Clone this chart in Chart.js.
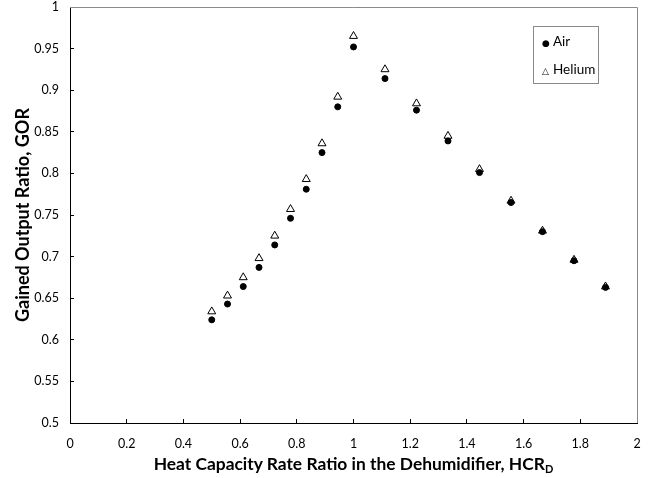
<!DOCTYPE html>
<html lang="en">
<head>
  <meta charset="UTF-8">
  <title>GOR vs HCR_D</title>
  <style>
    body {
      margin: 0;
      padding: 0;
      background: #ffffff;
      font-family: Lato, 'Open Sans', sans-serif;
    }
    .wrap {
      position: relative;
      width: 655px;
      height: 478px;
    }
    /* x axis title, with the subscript */
    .xtitle {
      position: absolute;
      left: 70px;
      width: 567px;
      top: 453px;
      text-align: center;
      font-weight: bold;
      font-size: 17.4px;
      color: #000;
      white-space: nowrap;
    }
    .xtitle sub {
      font-size: 11px;
      vertical-align: -3px;
    }
    .legend {
      position: absolute;
      left: 533px;
      top: 26px;
      width: 64px;
      height: 56px;
      border: 1px solid #8a8a8a;
      font-size: 13.5px;
      color: #000;
    }
    .legend div {
      position: absolute;
      left: 8px;
      white-space: nowrap;
    }
    .legend .sym {
      display: inline-block;
      width: 9px;
      font-family: 'DejaVu Sans', sans-serif;
      font-size: 9px;
      margin-right: 2px;
    }
  </style>
  <script src="https://cdn.jsdelivr.net/npm/chart.js"></script>
</head>
<body>
  <div class="wrap">
    <canvas id="gorChart" width="655" height="478"></canvas>
    <div class="legend">
      <div style="top:6px"><span class="sym">&#9679;</span>Air</div>
      <div style="top:34px"><span class="sym">&#9651;</span>Helium</div>
    </div>
    <div class="xtitle">Heat Capacity Rate Ratio in the Dehumidifier, HCR<sub>D</sub></div>
  </div>

  <script>
    // valeurs
    const hcr = [0.5, 0.5556, 0.6111, 0.6667, 0.7222, 0.7778, 0.8333, 0.8889, 0.9444, 1.0,
                 1.1111, 1.2222, 1.3333, 1.4444, 1.5556, 1.6667, 1.7778, 1.8889];
    const gorAir = [0.624, 0.643, 0.664, 0.687, 0.714, 0.746, 0.781, 0.825, 0.880, 0.952,
                    0.914, 0.876, 0.839, 0.801, 0.765, 0.730, 0.695, 0.663];
    const gorHelium = [0.634, 0.653, 0.675, 0.698, 0.725, 0.757, 0.793, 0.836, 0.892, 0.965,
                       0.925, 0.884, 0.845, 0.805, 0.767, 0.731, 0.696, 0.664];
    const xTickLabels = ['0', '0.2', '0.4', '0.6', '0.8', '1', '1.2', '1.4', '1.6', '1.8', '2'];
    const yTickLabels = ['0.5', '0.55', '0.6', '0.65', '0.7', '0.75', '0.8', '0.85', '0.9', '0.95', '1'];

    const toPoints = (xs, ys) => xs.map((x, i) => ({ x: x, y: ys[i] }));

    // cadre gris en haut et a droite
    const frame = {
      id: 'frame',
      beforeDatasetsDraw(chart) {
        const a = chart.chartArea;
        const ctx = chart.ctx;
        ctx.save();
        ctx.strokeStyle = '#8a8a8a';
        ctx.lineWidth = 1;
        ctx.beginPath();
        ctx.moveTo(a.left, Math.round(a.top) + 0.5);
        ctx.lineTo(Math.round(a.right) + 0.5, Math.round(a.top) + 0.5);
        ctx.lineTo(Math.round(a.right) + 0.5, a.bottom);
        ctx.stroke();
        ctx.restore();
      }
    };

    const tickFont = { family: "Lato, 'Open Sans', sans-serif", size: 12.5 };

    new Chart(document.getElementById('gorChart'), {
      type: 'scatter',
      data: {
        datasets: [
          {
            label: 'Air',
            data: toPoints(hcr, gorAir),
            pointStyle: 'circle',
            pointRadius: 3,
            backgroundColor: '#000000',
            borderColor: '#000000',
            borderWidth: 1
          },
          {
            label: 'Helium',
            data: toPoints(hcr, gorHelium),
            pointStyle: 'triangle',
            pointRadius: 4.6,
            backgroundColor: '#ffffff',
            borderColor: '#000000',
            borderWidth: 1
          }
        ]
      },
      options: {
        responsive: false,
        animation: false,
        layout: { padding: { top: 7, right: 18, left: 0, bottom: 0 } },
        plugins: {
          legend: { display: false },
          tooltip: { enabled: false }
        },
        scales: {
          x: {
            type: 'linear',
            min: 0,
            max: 2,
            afterFit: (s) => { s.height = 55; s.paddingLeft = 0; s.paddingRight = 0; },
            afterBuildTicks: (s) => { s.ticks = xTickLabels.map(t => ({ value: parseFloat(t) })); },
            ticks: {
              color: '#000',
              font: tickFont,
              padding: 17,
              maxRotation: 0,
              autoSkip: false,
              callback: (v, i) => xTickLabels[i]
            },
            grid: { drawOnChartArea: false, drawTicks: true, tickLength: -4, color: '#000' },
            border: { color: '#000', width: 1 }
          },
          y: {
            type: 'linear',
            min: 0.5,
            max: 1,
            afterFit: (s) => { s.width = 70; s.paddingTop = 0; s.paddingBottom = 0; },
            afterBuildTicks: (s) => { s.ticks = yTickLabels.map(t => ({ value: parseFloat(t) })); },
            ticks: {
              color: '#000',
              font: tickFont,
              padding: 15,
              autoSkip: false,
              callback: (v, i) => yTickLabels[i]
            },
            grid: { drawOnChartArea: false, drawTicks: true, tickLength: -4, color: '#000' },
            border: { color: '#000', width: 1 },
            title: {
              display: true,
              text: 'Gained Output Ratio, GOR',
              color: '#000',
              font: { family: "Lato, 'Open Sans', sans-serif", size: 18, weight: 'bold' },
              padding: { top: 12, bottom: 0 }
            }
          }
        }
      },
      plugins: [frame]
    });
  </script>
</body>
</html>
